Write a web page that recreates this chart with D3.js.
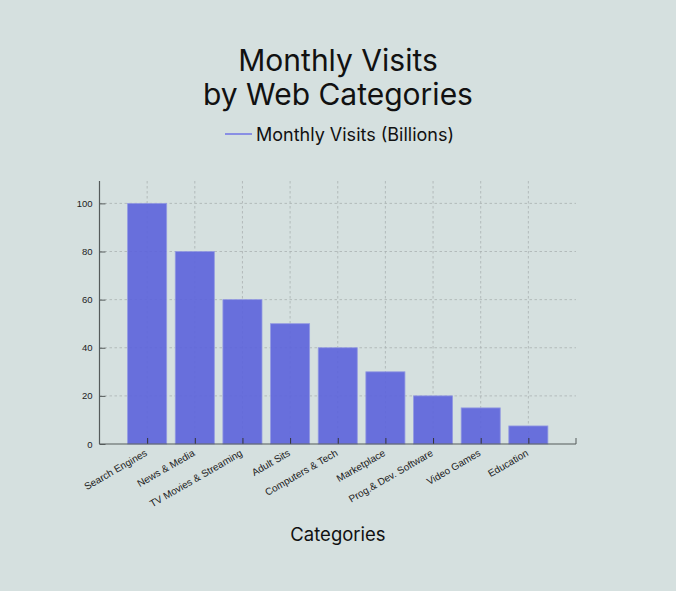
<!DOCTYPE html>
<html>
<head>
<meta charset="utf-8">
<script src="https://cdn.jsdelivr.net/npm/d3@7"></script>
<style>
  html, body { margin: 0; padding: 0; background: #d5e0df; }
  svg { display: block; }
</style>
</head>
<body>
<svg id="chart" width="676" height="591"></svg>
<script>
// カテゴリ
const categories = [
  'Search Engines', 'News & Media', 'TV Movies & Streaming', 'Adult Sits',
  'Computers & Tech', 'Marketplace', 'Prog.& Dev. Software', 'Video Games', 'Education'
];

// 月間訪問数（十億）
const visits = [100, 80, 60, 50, 40, 30, 20, 15, 7.5];

// y軸の目盛り
const yTicks = [0, 20, 40, 60, 80, 100];

const width = 676, height = 591;
const margin = { top: 181, right: 100, bottom: 147, left: 99.5 };

const svg = d3.select('#chart');

const x = d3.scalePoint()
  .domain(categories)
  .range([margin.left, width - margin.right])
  .padding(1);

const y = d3.scaleLinear()
  .domain([0, 109.3])
  .range([height - margin.bottom, margin.top]);

const barWidth = x.step() * 0.82;
const gridColor = '#a9b1b1';
const axisColor = '#555b5b';

// グリッド（横）
svg.append('g')
  .selectAll('line')
  .data(yTicks.filter(d => d > 0))
  .enter()
  .append('line')
  .attr('x1', margin.left)
  .attr('x2', width - margin.right)
  .attr('y1', d => y(d))
  .attr('y2', d => y(d))
  .attr('stroke', gridColor)
  .attr('stroke-width', 0.8)
  .attr('stroke-dasharray', '2.5,2.5');

// グリッド（縦）
svg.append('g')
  .selectAll('line')
  .data(categories)
  .enter()
  .append('line')
  .attr('x1', d => x(d))
  .attr('x2', d => x(d))
  .attr('y1', margin.top)
  .attr('y2', y(0))
  .attr('stroke', gridColor)
  .attr('stroke-width', 0.8)
  .attr('stroke-dasharray', '2.5,2.5');

// 棒
svg.append('g')
  .selectAll('rect')
  .data(visits)
  .enter()
  .append('rect')
  .attr('x', (d, i) => x(categories[i]) - barWidth / 2)
  .attr('y', d => y(d))
  .attr('width', barWidth)
  .attr('height', d => y(0) - y(d))
  .attr('fill', '#5c63dc')
  .attr('fill-opacity', 0.9)
  .attr('stroke', '#939ae2')
  .attr('stroke-width', 0.8);

// y軸
const yAxis = svg.append('g')
  .attr('transform', `translate(${margin.left},0)`)
  .call(d3.axisRight(y).tickValues(yTicks).tickSize(6).tickFormat(d3.format('d')));
yAxis.select('.domain').remove();
yAxis.selectAll('.tick line').attr('stroke', axisColor);
yAxis.selectAll('.tick text')
  .attr('x', -7)
  .attr('text-anchor', 'end')
  .attr('fill', '#222')
  .style('font-family', '"Liberation Sans", Arial, sans-serif')
  .style('font-size', '9.5px');
svg.append('line')
  .attr('x1', margin.left).attr('x2', margin.left)
  .attr('y1', margin.top).attr('y2', y(0))
  .attr('stroke', axisColor).attr('stroke-width', 1.2);

// x軸
const xAxis = svg.append('g')
  .attr('transform', `translate(0,${y(0)})`)
  .call(d3.axisTop(x).tickSize(6).tickSizeOuter(0).tickFormat(''));
xAxis.select('.domain').remove();
xAxis.selectAll('.tick line').attr('stroke', '#333');
svg.append('line')
  .attr('x1', margin.left).attr('x2', width - margin.right)
  .attr('y1', y(0)).attr('y2', y(0))
  .attr('stroke', axisColor).attr('stroke-width', 1.2);
svg.append('line')
  .attr('x1', width - margin.right).attr('x2', width - margin.right)
  .attr('y1', y(0)).attr('y2', y(0) - 6)
  .attr('stroke', axisColor).attr('stroke-width', 1);

// x軸ラベル
svg.append('g')
  .selectAll('text')
  .data(categories)
  .enter()
  .append('text')
  .attr('transform', d => `translate(${x(d) - 1},${y(0) + 8}) rotate(-30)`)
  .attr('text-anchor', 'end')
  .attr('dy', '0.35em')
  .attr('fill', '#222')
  .style('font-family', '"Liberation Sans", Arial, sans-serif')
  .style('font-size', '10px')
  .text(d => d);

// タイトル
const title = svg.append('text')
  .attr('text-anchor', 'middle')
  .attr('fill', '#111')
  .style('font-family', 'Inter, sans-serif')
  .style('font-size', '30px');
title.append('tspan').attr('x', width / 2).attr('y', 71).text('Monthly Visits');
title.append('tspan').attr('x', width / 2).attr('y', 105).text('by Web Categories');

// 凡例
svg.append('line')
  .attr('x1', 225).attr('x2', 252)
  .attr('y1', 134).attr('y2', 134)
  .attr('stroke', '#6f75e6').attr('stroke-width', 1.5);
svg.append('text')
  .attr('x', 256).attr('y', 141)
  .attr('fill', '#111')
  .style('font-family', 'Inter, sans-serif')
  .style('font-size', '18px')
  .text('Monthly Visits (Billions)');

// x軸タイトル
svg.append('text')
  .attr('x', 338).attr('y', 541)
  .attr('text-anchor', 'middle')
  .attr('fill', '#111')
  .style('font-family', 'Inter, sans-serif')
  .style('font-size', '18.5px')
  .text('Categories');
</script>
</body>
</html>
